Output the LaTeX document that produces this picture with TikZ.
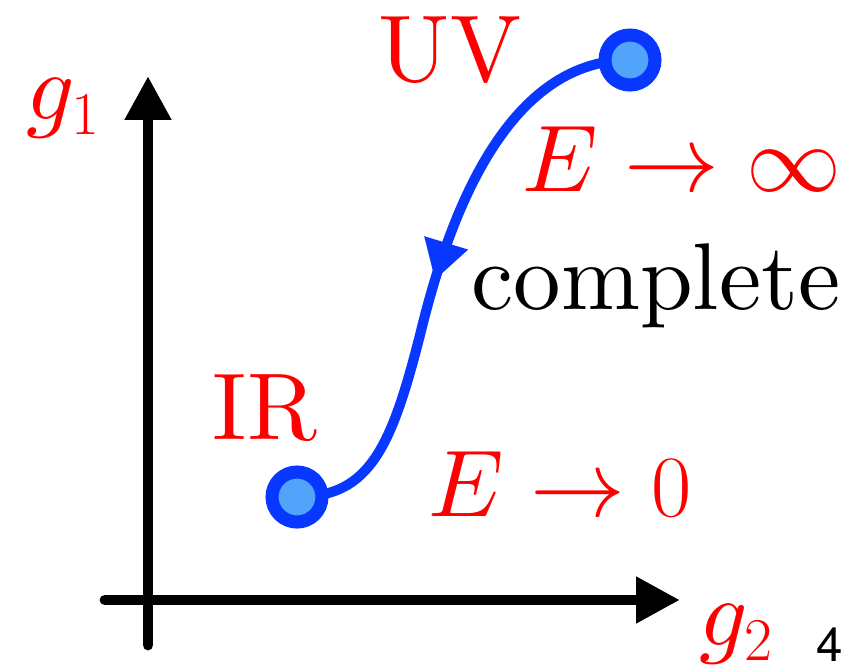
\documentclass[tikz,border=0pt]{standalone}
\usepackage{fontspec}
\newfontfamily\LabelRm{lmroman10-regular}[Extension=.otf]
\newfontfamily\PageSf{TeX Gyre Heros}
\DeclareFontShape{OML}{cmm}{m}{it}{<->cmmi10}{\skewchar\font=127}
\DeclareFontShape{OMS}{cmsy}{m}{n}{<->cmsy10}{\skewchar\font=48}
\usepackage{tkz-euclide}
\usetikzlibrary{arrows.meta,decorations.markings,shadows}
\definecolor{FlowClr}{RGB}{8,56,255}
\definecolor{PointClr}{RGB}{82,163,250}
\definecolor{LabelClr}{RGB}{255,0,0}

\begin{document}
\begin{tikzpicture}[
  lbl/.style={text=LabelClr,anchor=base,inner sep=0pt,font=\LabelRm\fontsize{27}{31}\selectfont},
  pagenum/.style={anchor=base,inner sep=0pt,font=\PageSf\fontsize{13.5}{16}\selectfont},
  flowpt/.style={circle,draw=FlowClr,line width=1.3mm,fill=PointClr,minimum size=5mm,inner sep=0pt,
    circular drop shadow={shadow xshift=0pt,shadow yshift=-.8mm,opacity=.25,shadow scale=1}},
  flow/.style={draw=FlowClr,line width=1mm,postaction={decorate},
    decoration={markings,mark=at position .53 with {\arrow{Triangle[length=3.9mm,width=4.3mm]}}}}]
\useasboundingbox (0,0) rectangle (8.63,6.67);

\tkzDefPoints{1.48/0.22/V0,1.48/5.91/V1,1.05/0.67/H0,6.80/0.67/H1}
\tkzDefPoints{2.97/1.70/IR,6.30/6.07/UV,4.22/3.40/M}

% axes
\tkzDrawSegments[line width=3.1pt,color=black,-{Triangle[length=4.4mm,width=4.4mm]}](V0,V1 H0,H1)

% flow from UV to IR
\draw[flow] (UV) to[out=180,in=76,out distance=1.2cm,in distance=1.24cm] (M)
  to[out=256,in=0,out distance=1.24cm,in distance=0.73cm] (IR);

\node[flowpt] (irpt) at (IR) {};
\node[flowpt] (uvpt) at (UV) {};

\node[lbl] (g1) at (0.64,5.47) {$g_1$};
\node[lbl] (g2) at (7.37,0.21) {$g_2$};
\node[lbl] (uvlbl) at (4.50,5.85) {UV};
\node[lbl] (irlbl) at (2.65,2.27) {IR};
\node[lbl] (einf) at (6.82,4.75) {$E\to\infty$};
\node[lbl,text=black] (cmpl) at (6.56,3.57) {complete};
\node[lbl] (ezero) at (5.60,1.50) {$E\to0$};
\node[pagenum] (pg) at (8.30,0.05) {4};
\end{tikzpicture}
\end{document}
